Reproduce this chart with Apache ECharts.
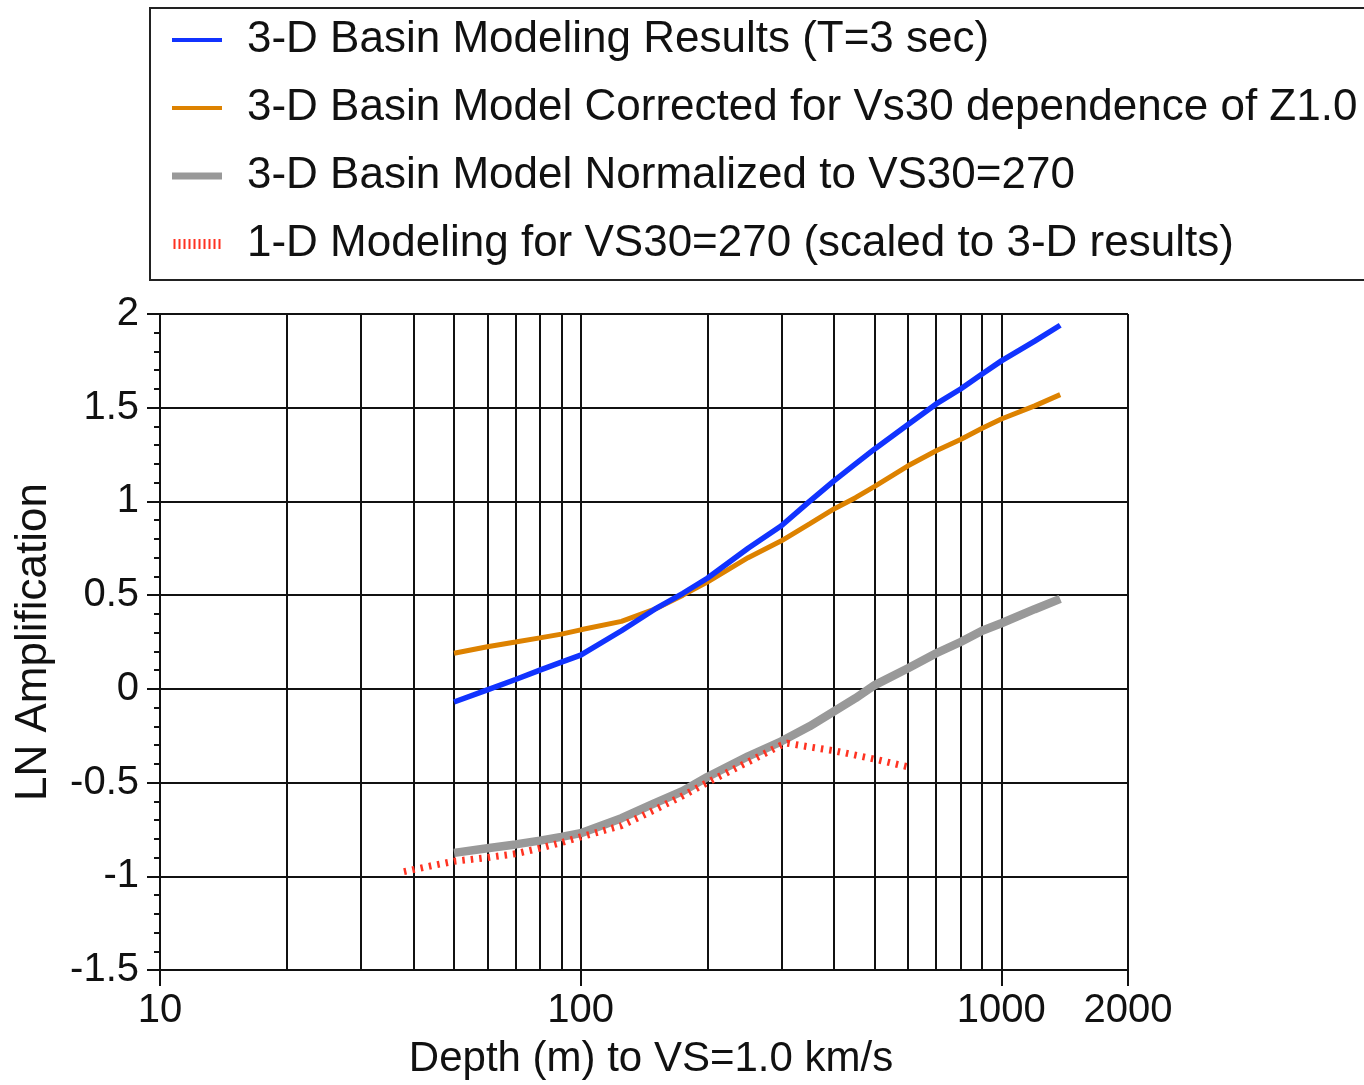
<!DOCTYPE html>
<html>
<head>
<meta charset="utf-8">
<script src="https://cdn.jsdelivr.net/npm/echarts@6/dist/echarts.min.js"></script>
<style>
html,body{margin:0;padding:0;background:#fff;}
#chart{width:1364px;height:1085px;}
</style>
</head>
<body>
<div id="chart"></div>
<script>
// ---- data ----
const seriesNames = [
  '3-D Basin Modeling Results (T=3 sec)',
  '3-D Basin Model Corrected for Vs30 dependence of Z1.0',
  '3-D Basin Model Normalized to VS30=270',
  '1-D Modeling for VS30=270 (scaled to 3-D results)'
];
const depth3D = [50, 60, 70, 80, 90, 100, 125, 150, 175, 200, 250, 300, 350, 400, 450, 500, 600, 700, 800, 900, 1000, 1200, 1380];
const basinResults = [-0.07, -0.005, 0.05, 0.10, 0.143, 0.18, 0.31, 0.425, 0.51, 0.59, 0.75, 0.87, 1.00, 1.11, 1.20, 1.28, 1.41, 1.52, 1.60, 1.68, 1.75, 1.855, 1.94];
const basinCorrected = [0.19, 0.225, 0.25, 0.272, 0.292, 0.315, 0.36, 0.425, 0.50, 0.57, 0.70, 0.79, 0.88, 0.96, 1.02, 1.08, 1.19, 1.27, 1.33, 1.39, 1.44, 1.51, 1.57];
const basinNormalized = [-0.875, -0.85, -0.83, -0.81, -0.79, -0.77, -0.69, -0.61, -0.545, -0.47, -0.36, -0.28, -0.20, -0.12, -0.05, 0.02, 0.11, 0.19, 0.25, 0.31, 0.35, 0.425, 0.48];
const depth1D = [38, 45, 50, 60, 70, 80, 90, 100, 125, 150, 175, 200, 250, 300, 310, 350, 400, 500, 610];
const model1D = [-0.975, -0.94, -0.92, -0.90, -0.88, -0.85, -0.82, -0.79, -0.73, -0.645, -0.57, -0.50, -0.39, -0.30, -0.29, -0.31, -0.33, -0.375, -0.42];
const xTickValues = [10, 20, 30, 40, 50, 60, 70, 80, 90, 100, 200, 300, 400, 500, 600, 700, 800, 900, 1000, 2000];
const xLabelValues = [10, 100, 1000, 2000];
const yMin = -1.5, yMax = 2, yStep = 0.5;
const xName = 'Depth (m) to VS=1.0 km/s';
const yName = 'LN Amplification';

const pair = (xs, ys) => xs.map((x, i) => [x, ys[i]]);
const FONT = '"Liberation Sans", Arial, Helvetica, sans-serif';
const LINE = '#111111';

const chart = echarts.init(document.getElementById('chart'), null, {renderer: 'canvas'});
chart.setOption({
  animation: false,
  backgroundColor: '#fff',
  textStyle: {fontFamily: FONT},
  grid: {left: 160, top: 314, right: 236, bottom: 111, containLabel: false},
  legend: {
    orient: 'vertical',
    left: 150, top: 8,
    padding: [8, 40, 12, 22],
    itemGap: 20,
    itemWidth: 50, itemHeight: 10,
    borderColor: '#222', borderWidth: 2,
    symbolKeepAspect: true,
    itemStyle: {borderWidth: 0},
    textStyle: {fontSize: 44, lineHeight: 48, color: '#111', fontFamily: FONT, padding: [0, 0, 0, 20]},
    data: [
      {name: seriesNames[0], icon: 'path://M0,0H50V4H0Z'},
      {name: seriesNames[1], icon: 'path://M0,0H50V4H0Z'},
      {name: seriesNames[2], icon: 'path://M0,0H50V7H0Z'},
      {name: seriesNames[3], icon: 'path://M0,0H2V10H0Z M5,0H7V10H5Z M10,0H12V10H10Z M15,0H17V10H15Z M20,0H22V10H20Z M25,0H27V10H25Z M30,0H32V10H30Z M35,0H37V10H35Z M40,0H42V10H40Z M45,0H47V10H45Z'}
    ]
  },
  xAxis: [{
    type: 'log', logBase: 10, min: 10, max: 2000,
    name: xName, nameLocation: 'middle', nameGap: 68,
    nameTextStyle: {fontSize: 42, color: '#111', fontFamily: FONT, padding: [0, 0, 0, 14]},
    axisLine: {show: true, lineStyle: {color: LINE, width: 2}},
    axisTick: {show: true, length: 8, customValues: xTickValues, lineStyle: {color: LINE, width: 2}},
    axisLabel: {show: false},
    splitLine: {show: true, lineStyle: {color: LINE, width: 2}},
    minorTick: {show: false}, minorSplitLine: {show: false}
  }, {
    type: 'log', logBase: 10, min: 10, max: 2000, position: 'bottom',
    axisLine: {show: false},
    axisTick: {show: true, length: 16, customValues: xLabelValues, lineStyle: {color: LINE, width: 2}},
    axisLabel: {show: true, customValues: xLabelValues, margin: 21, fontSize: 40, color: '#111', fontFamily: FONT,
      formatter: v => String(v)},
    splitLine: {show: false}
  }],
  yAxis: {
    type: 'value', min: yMin, max: yMax, interval: yStep,
    name: yName, nameLocation: 'middle', nameGap: 104,
    nameTextStyle: {fontSize: 44, color: '#111', fontFamily: FONT},
    axisLine: {show: true, lineStyle: {color: LINE, width: 2}},
    axisTick: {show: true, length: 13, lineStyle: {color: LINE, width: 2}},
    minorTick: {show: true, splitNumber: 5, length: 6, lineStyle: {color: LINE, width: 2}},
    axisLabel: {margin: 21, fontSize: 40, color: '#111', fontFamily: FONT},
    splitLine: {show: true, lineStyle: {color: LINE, width: 2}}
  },
  series: [{
    name: seriesNames[0], type: 'line', xAxisIndex: 0, showSymbol: false, symbol: 'none', z: 5,
    color: '#1133ff', lineStyle: {color: '#1133ff', width: 5.5},
    data: pair(depth3D, basinResults)
  }, {
    name: seriesNames[1], type: 'line', xAxisIndex: 0, showSymbol: false, symbol: 'none', z: 4,
    color: '#dd8200', lineStyle: {color: '#dd8200', width: 5},
    data: pair(depth3D, basinCorrected)
  }, {
    name: seriesNames[2], type: 'line', xAxisIndex: 0, showSymbol: false, symbol: 'none', z: 2,
    color: '#999999', lineStyle: {color: '#999999', width: 8.5},
    data: pair(depth3D, basinNormalized)
  }, {
    name: seriesNames[3], type: 'line', xAxisIndex: 0, showSymbol: false, symbol: 'none', z: 3,
    color: '#ff3322', lineStyle: {color: '#ff3322', width: 7, type: [2.5, 6], cap: 'butt'},
    data: pair(depth1D, model1D)
  }]
});
</script>
</body>
</html>
